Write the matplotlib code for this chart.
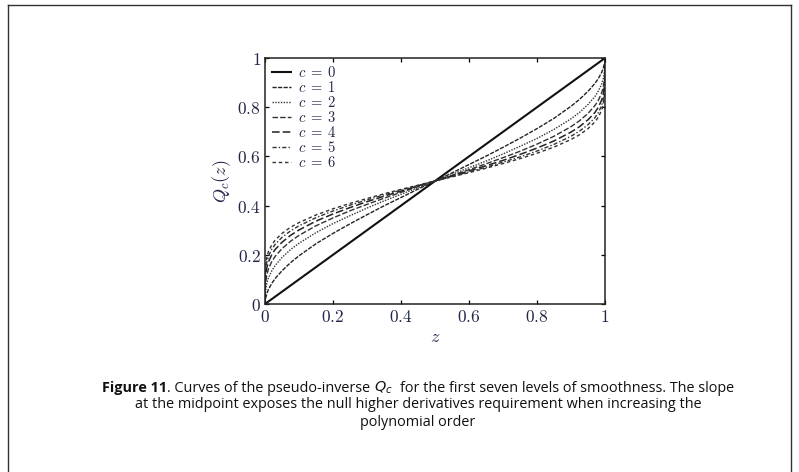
import matplotlib
matplotlib.use('Agg')
import matplotlib.pyplot as plt
from matplotlib.lines import Line2D

# ==============================================================================
# Data
#
z = [0, 0.001, 0.005, 0.01, 0.02, 0.03, 0.05, 0.075, 0.1, 0.15, 0.2, 0.25,
     0.3, 0.35, 0.4, 0.45, 0.5, 0.55, 0.6, 0.65, 0.7, 0.75, 0.8, 0.85, 0.9,
     0.925, 0.95, 0.97, 0.98, 0.99, 0.995, 0.999, 1]

q0 = list(z)
q1 = [0, 0.018, 0.041, 0.059, 0.084, 0.104, 0.135, 0.168, 0.196, 0.245, 0.287,
      0.326, 0.363, 0.399, 0.433, 0.467, 0.5, 0.533, 0.567, 0.601, 0.637, 0.674,
      0.713, 0.755, 0.804, 0.832, 0.865, 0.896, 0.916, 0.941, 0.959, 0.982, 1]
q2 = [0, 0.048, 0.083, 0.106, 0.135, 0.157, 0.189, 0.221, 0.247, 0.290, 0.327,
      0.359, 0.390, 0.419, 0.446, 0.473, 0.5, 0.527, 0.554, 0.581, 0.610, 0.641,
      0.673, 0.710, 0.753, 0.779, 0.811, 0.843, 0.865, 0.894, 0.917, 0.952, 1]
q3 = [0, 0.077, 0.118, 0.142, 0.173, 0.194, 0.225, 0.255, 0.279, 0.318, 0.350,
      0.379, 0.405, 0.430, 0.454, 0.477, 0.5, 0.523, 0.546, 0.570, 0.595, 0.621,
      0.650, 0.682, 0.721, 0.745, 0.775, 0.806, 0.827, 0.858, 0.882, 0.923, 1]
q4 = [0, 0.103, 0.146, 0.171, 0.201, 0.222, 0.251, 0.279, 0.301, 0.337, 0.366,
      0.392, 0.416, 0.438, 0.459, 0.480, 0.5, 0.520, 0.541, 0.562, 0.584, 0.608,
      0.634, 0.663, 0.699, 0.721, 0.749, 0.778, 0.799, 0.829, 0.854, 0.897, 1]
q5 = [0, 0.125, 0.169, 0.194, 0.223, 0.243, 0.271, 0.297, 0.318, 0.351, 0.378,
      0.402, 0.423, 0.444, 0.463, 0.482, 0.5, 0.518, 0.537, 0.556, 0.577, 0.598,
      0.622, 0.649, 0.682, 0.703, 0.729, 0.757, 0.777, 0.806, 0.831, 0.875, 1]
q6 = [0, 0.144, 0.189, 0.213, 0.241, 0.260, 0.287, 0.312, 0.331, 0.362, 0.387,
      0.409, 0.429, 0.448, 0.466, 0.483, 0.5, 0.517, 0.534, 0.552, 0.571, 0.591,
      0.613, 0.638, 0.669, 0.688, 0.713, 0.740, 0.759, 0.787, 0.811, 0.856, 1]

curves = [q0, q1, q2, q3, q4, q5, q6]
curve_labels = [r'$c\;=\;%d$' % c for c in range(7)]
tick_values = [0, 0.2, 0.4, 0.6, 0.8, 1]
tick_labels = ['$0$', '$0.2$', '$0.4$', '$0.6$', '$0.8$', '$1$']

# first caption line as (text, bold) pieces
caption_pieces = [('Figure 11', True),
                  ('. Curves of the pseudo-inverse', False),
                  ('$Q_c$', False),
                  ('for the first seven levels of smoothness. The slope', False)]
caption_line2 = ('at the midpoint exposes the null higher derivatives '
                 'requirement when increasing the')
caption_line3 = 'polynomial order'

# ==============================================================================
# Styles
#
LINE_STYLES = ['-', (0, (3, 1)), (0, (1, 1)), (0, (4, 1.5)), (0, (5, 2)),
               (0, (3, 1.5, 1, 1.5)), (0, (2.5, 2))]
LINE_WIDTHS = [1.5, 1.0, 1.0, 1.0, 1.1, 1.0, 1.0]
LINE_COLORS = ['#111111', '#222222', '#333333', '#333333', '#222222',
               '#333333', '#333333']
TEXT_COLOR = '#22264a'
CAPTION_FONT = 'Open Sans'
CAPTION_CENTER = 418 / 799
CAPTION_SIZE = 10.4
# gaps (pixels) placed before each caption piece
PIECE_GAPS = [0, 0, 3.5, 7]

plt.rcParams['mathtext.fontset'] = 'cm'

# ==============================================================================
# Main
#
fig = plt.figure(figsize=(7.99, 4.72), dpi=100)
ax = fig.add_axes([0.3317, 0.356, 0.4255, 0.521])

for q, label, ls, lw, col in zip(curves, curve_labels, LINE_STYLES,
                                 LINE_WIDTHS, LINE_COLORS):
    ax.plot(z, q, linestyle=ls, linewidth=lw, color=col, label=label)

ax.set_xlim(0, 1)
ax.set_ylim(0, 1)
ax.set_xticks(tick_values)
ax.set_yticks(tick_values)
ax.set_xticklabels(tick_labels)
ax.set_yticklabels(tick_labels)
ax.tick_params(direction='in', top=True, right=True, length=3, width=0.9,
               labelsize=12.5, labelcolor=TEXT_COLOR, pad=3)
for spine in ax.spines.values():
    spine.set_linewidth(1.1)
    spine.set_color('#222222')

ax.set_xlabel('$z$', fontsize=13, color=TEXT_COLOR, labelpad=1)
ax.set_ylabel('$Q_c(z)$', fontsize=13, color=TEXT_COLOR, labelpad=3)

ax.legend(loc='upper left', frameon=False, fontsize=10.5, handlelength=1.3,
          handletextpad=0.45, labelspacing=0.0, borderaxespad=0.15,
          borderpad=0.35, labelcolor=TEXT_COLOR)

# frame around figure and caption
frame_kw = dict(color='#333333', linewidth=1.0, transform=fig.transFigure)
fig.add_artist(Line2D([8 / 799, 8 / 799], [-0.1, 1 - 5 / 472], **frame_kw))
fig.add_artist(Line2D([8 / 799, 791 / 799], [1 - 5 / 472, 1 - 5 / 472], **frame_kw))
fig.add_artist(Line2D([791 / 799, 791 / 799], [-0.1, 1 - 5 / 472], **frame_kw))

# caption, first line built from pieces
renderer = fig.canvas.get_renderer()
fig_w = fig.bbox.width
line1_y = 1 - 392 / 472
texts = []
widths = []
for piece, bold in caption_pieces:
    t = fig.text(0, line1_y, piece, fontsize=CAPTION_SIZE,
                 fontweight='bold' if bold else 'normal', family=CAPTION_FONT,
                 va='baseline', color='#111111', math_fontfamily='dejavusans')
    texts.append(t)
    widths.append(t.get_window_extent(renderer).width)
total = sum(widths) + sum(PIECE_GAPS)
x = CAPTION_CENTER * fig_w - total / 2
for t, w, gap in zip(texts, widths, PIECE_GAPS):
    x += gap
    t.set_x(x / fig_w)
    x += w

fig.text(CAPTION_CENTER, 1 - 405 / 472, caption_line2, fontsize=CAPTION_SIZE,
         family=CAPTION_FONT, ha='center', va='center', color='#111111')
fig.text(CAPTION_CENTER, 1 - 422 / 472, caption_line3, fontsize=CAPTION_SIZE,
         family=CAPTION_FONT, ha='center', va='center', color='#111111')

fig.savefig('out.png', dpi=100)
